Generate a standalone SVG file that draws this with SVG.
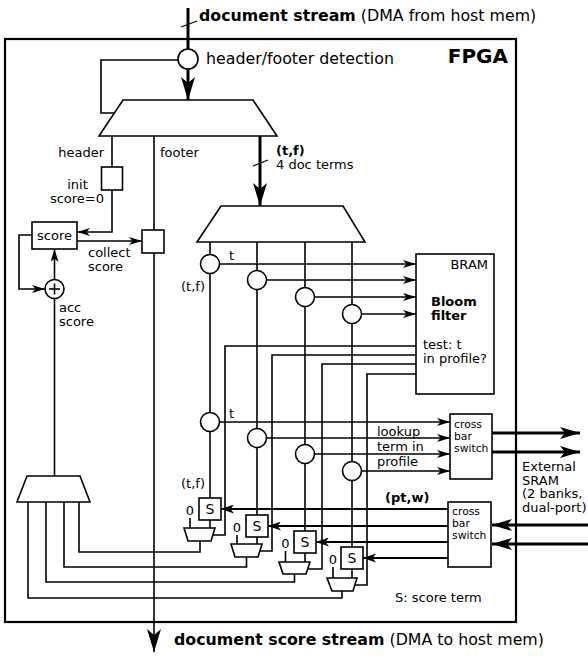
<svg xmlns="http://www.w3.org/2000/svg" width="588" height="661" viewBox="0 0 588 661">
<style>
.ln{stroke:#000;stroke-width:1.6;fill:none}
.tk{stroke:#000;stroke-width:3;fill:none}
.md{stroke:#000;stroke-width:2.2;fill:none}
.bx{fill:#fff;stroke:#000;stroke-width:1.6}
text{font-family:"DejaVu Sans","Liberation Sans",sans-serif;font-size:13px;fill:#000}
.b{font-weight:bold}
.big{font-size:15.8px}
.sm{font-size:10.8px}
.c{text-anchor:middle}
.e{text-anchor:end}
</style>
<defs>
<marker id="aS" markerUnits="userSpaceOnUse" markerWidth="13" markerHeight="8" viewBox="0 0 13 8" refX="13" refY="4" orient="auto"><path d="M0,0 L13,4 L0,8 L3.5,4 Z" fill="#000"/></marker>
<marker id="aM" markerUnits="userSpaceOnUse" markerWidth="13" markerHeight="9" viewBox="0 0 13 9" refX="13" refY="4.5" orient="auto"><path d="M0,0 L13,4.5 L0,9 L3.5,4.5 Z" fill="#000"/></marker>
<marker id="aL" markerUnits="userSpaceOnUse" markerWidth="23" markerHeight="14" viewBox="0 0 23 14" refX="23" refY="7" orient="auto"><path d="M0,0 L23,7 L0,14 L6,7 Z" fill="#000"/></marker>
<marker id="aX" markerUnits="userSpaceOnUse" markerWidth="20" markerHeight="12" viewBox="0 0 20 12" refX="20" refY="6" orient="auto"><path d="M0,0 L20,6 L0,12 L5,6 Z" fill="#000"/></marker>
</defs>
<rect width="588" height="661" fill="#fff"/>
<g id="fpga">
<rect x="5" y="39" width="511" height="583" fill="none" stroke="#000" stroke-width="2.2"/>
<text x="508" y="63" class="b e" style="font-size:20px">FPGA</text>
</g>
<g id="connectors">
<line x1="188" y1="8" x2="188" y2="49" class="tk"/>
<line x1="181" y1="27" x2="197" y2="21" stroke="#000" stroke-width="1.2"/>
<line x1="188" y1="69" x2="188" y2="100" class="tk" marker-end="url(#aL)"/>
<polyline points="178,60 101,60 101,113 114.3,113" class="ln"/>
<line x1="112" y1="136" x2="112" y2="167" class="ln"/>
<polyline points="112,190 112,232 77,232" class="ln" marker-end="url(#aS)"/>
<line x1="77" y1="241" x2="142" y2="241" class="ln" marker-end="url(#aS)"/>
<line x1="154" y1="136" x2="154" y2="652" class="ln" marker-end="url(#aL)"/>
<polyline points="32,235 19,235 19,289 45,289" class="ln" marker-end="url(#aS)"/>
<line x1="54.5" y1="279.5" x2="54.5" y2="249" class="ln" marker-end="url(#aS)"/>
<line x1="54.5" y1="298.5" x2="54.5" y2="476" class="ln"/>
<line x1="260" y1="136" x2="260" y2="206" class="tk" marker-end="url(#aL)"/>
<line x1="253" y1="166" x2="268" y2="160" stroke="#000" stroke-width="1.2"/>
<line x1="210" y1="242" x2="210" y2="498" class="ln"/>
<line x1="257" y1="242" x2="257" y2="515" class="ln"/>
<line x1="305" y1="242" x2="305" y2="531" class="ln"/>
<line x1="352" y1="242" x2="352" y2="547" class="ln"/>
<line x1="219.5" y1="264" x2="416" y2="264" class="ln" marker-end="url(#aS)"/>
<line x1="266.5" y1="280" x2="416" y2="280" class="ln" marker-end="url(#aS)"/>
<line x1="314.5" y1="297" x2="416" y2="297" class="ln" marker-end="url(#aS)"/>
<line x1="361.5" y1="314" x2="416" y2="314" class="ln" marker-end="url(#aS)"/>
<polyline points="416,346 225,346 225,535 213,535" class="ln"/>
<polyline points="416,355 272,355 272,551 260,551" class="ln"/>
<polyline points="416,364 322,364 322,569 308,569" class="ln"/>
<polyline points="416,374 367,374 367,585 355,585" class="ln"/>
<line x1="219.5" y1="422" x2="450" y2="422" class="ln" marker-end="url(#aS)"/>
<line x1="266.5" y1="438" x2="450" y2="438" class="ln" marker-end="url(#aS)"/>
<line x1="314.5" y1="454" x2="450" y2="454" class="ln" marker-end="url(#aS)"/>
<line x1="361.5" y1="471" x2="450" y2="471" class="ln" marker-end="url(#aS)"/>
<line x1="448" y1="509" x2="221" y2="509" class="md" marker-end="url(#aM)"/>
<line x1="448" y1="526" x2="268" y2="526" class="md" marker-end="url(#aM)"/>
<line x1="448" y1="542" x2="316" y2="542" class="md" marker-end="url(#aM)"/>
<line x1="448" y1="558" x2="363" y2="558" class="md" marker-end="url(#aM)"/>
<line x1="492" y1="433" x2="580" y2="433" class="tk" marker-end="url(#aX)"/>
<line x1="492" y1="452" x2="580" y2="452" class="tk" marker-end="url(#aX)"/>
<line x1="588" y1="525" x2="492" y2="525" class="tk" marker-end="url(#aX)"/>
<line x1="588" y1="544" x2="492" y2="544" class="tk" marker-end="url(#aX)"/>
<line x1="190" y1="518" x2="190" y2="528" class="ln"/>
<line x1="210" y1="520" x2="210" y2="528" class="ln"/>
<line x1="237" y1="535" x2="237" y2="544" class="ln"/>
<line x1="257" y1="537" x2="257" y2="544" class="ln"/>
<line x1="285.5" y1="551" x2="285.5" y2="562" class="ln"/>
<line x1="305" y1="553" x2="305" y2="562" class="ln"/>
<line x1="333" y1="567" x2="333" y2="578" class="ln"/>
<line x1="352" y1="569" x2="352" y2="578" class="ln"/>
<polyline points="200,541 200,552 79,552 79,502" class="ln"/>
<polyline points="246.5,557 246.5,567 64,567 64,502" class="ln"/>
<polyline points="294.5,574 294.5,582 46,582 46,502" class="ln"/>
<polyline points="342,591 342,598 28,598 28,502" class="ln"/>
</g>
<g id="stream-in">
<text x="199" y="21" class="big"><tspan class="b">document stream</tspan> (DMA from host mem)</text>
</g>
<g id="detect">
<circle cx="188" cy="59" r="10" class="bx"/>
<text x="206" y="64" class="big">header/footer detection</text>
</g>
<g id="demux">
<polygon points="123,100 253,100 277,136 99,136" class="bx"/>
<text x="104" y="157" class="e">header</text>
<text x="160" y="157">footer</text>
<text x="276" y="155" class="b">(t,f)</text>
<text x="276" y="169">4 doc terms</text>
</g>
<g id="init">
<rect x="101.5" y="167" width="21" height="23" class="bx"/>
<text x="77.5" y="189" class="c">init</text>
<text x="77" y="203" class="c">score=0</text>
</g>
<g id="score">
<rect x="32" y="222" width="45" height="27" class="bx"/>
<text x="54.5" y="240" class="c">score</text>
</g>
<g id="collect">
<rect x="142" y="230" width="22" height="23" class="bx"/>
<text x="88" y="257">collect</text>
<text x="88" y="271">score</text>
</g>
<g id="adder">
<circle cx="54.5" cy="289" r="9.5" class="bx"/>
<line x1="49" y1="289" x2="60" y2="289" class="ln"/>
<line x1="54.5" y1="283.5" x2="54.5" y2="294.5" class="ln"/>
<text x="59" y="312">acc</text>
<text x="59" y="326">score</text>
</g>
<g id="sum-mux">
<polygon points="27,476 80,476 90,502 17,502" class="bx"/>
</g>
<g id="term-demux">
<polygon points="221,206 343,206 365,242 197,242" class="bx"/>
</g>
<g id="bloom-taps">
<circle cx="210" cy="264" r="9.5" class="bx"/>
<circle cx="257" cy="280" r="9.5" class="bx"/>
<circle cx="305" cy="297" r="9.5" class="bx"/>
<circle cx="352" cy="314" r="9.5" class="bx"/>
<text x="229" y="260">t</text>
<text x="181" y="291">(t,f)</text>
</g>
<g id="bram">
<rect x="416" y="254" width="78" height="140" class="bx"/>
<text x="488" y="269" class="e">BRAM</text>
<text x="431" y="306" class="b">Bloom</text>
<text x="431" y="320" class="b">filter</text>
<text x="423" y="349">test: t</text>
<text x="423" y="363">in profile?</text>
</g>
<g id="lookup-taps">
<circle cx="210" cy="422" r="9.5" class="bx"/>
<circle cx="257" cy="438" r="9.5" class="bx"/>
<circle cx="305" cy="454" r="9.5" class="bx"/>
<circle cx="352" cy="471" r="9.5" class="bx"/>
<text x="229" y="418">t</text>
<text x="377" y="436">lookup</text>
<text x="377" y="451">term in</text>
<text x="377" y="466">profile</text>
</g>
<g id="xbar-out">
<rect x="450" y="414" width="42" height="65" class="bx"/>
<text x="454" y="428" class="sm">cross</text>
<text x="454" y="440" class="sm">bar</text>
<text x="454" y="452" class="sm">switch</text>
</g>
<g id="xbar-in">
<rect x="448" y="502" width="43" height="65" class="bx"/>
<text x="452" y="515" class="sm">cross</text>
<text x="452" y="527" class="sm">bar</text>
<text x="452" y="539" class="sm">switch</text>
<text x="385" y="502" class="b">(pt,w)</text>
</g>
<g id="sram">
<text x="522" y="471">External</text>
<text x="522" y="484.5">SRAM</text>
<text x="522" y="498">(2 banks,</text>
<text x="522" y="511.5">dual-port)</text>
</g>
<g id="s1">
<rect x="199" y="498" width="22" height="22" class="bx"/>
<text x="210" y="514" class="c" style="font-size:14px">S</text>
<text x="190" y="515" class="c">0</text>
<text x="181" y="488">(t,f)</text>
<polygon points="184,528 215,528 211,541 188,541" class="bx"/>
</g>
<g id="s2">
<rect x="246" y="515" width="22" height="22" class="bx"/>
<text x="257" y="531" class="c" style="font-size:14px">S</text>
<text x="237" y="532" class="c">0</text>
<polygon points="231,544 262,544 258,557 235,557" class="bx"/>
</g>
<g id="s3">
<rect x="294" y="531" width="22" height="22" class="bx"/>
<text x="305" y="547" class="c" style="font-size:14px">S</text>
<text x="285.5" y="548" class="c">0</text>
<polygon points="279,562 310,562 306,574 283,574" class="bx"/>
</g>
<g id="s4">
<rect x="341" y="547" width="22" height="22" class="bx"/>
<text x="352" y="563" class="c" style="font-size:14px">S</text>
<text x="333" y="564" class="c">0</text>
<polygon points="327,578 357,578 353,591 332,591" class="bx"/>
</g>
<g id="legend">
<text x="395" y="602">S: score term</text>
</g>
<g id="stream-out">
<text x="174" y="645" class="big"><tspan class="b">document score stream</tspan> (DMA to host mem)</text>
</g>
</svg>
